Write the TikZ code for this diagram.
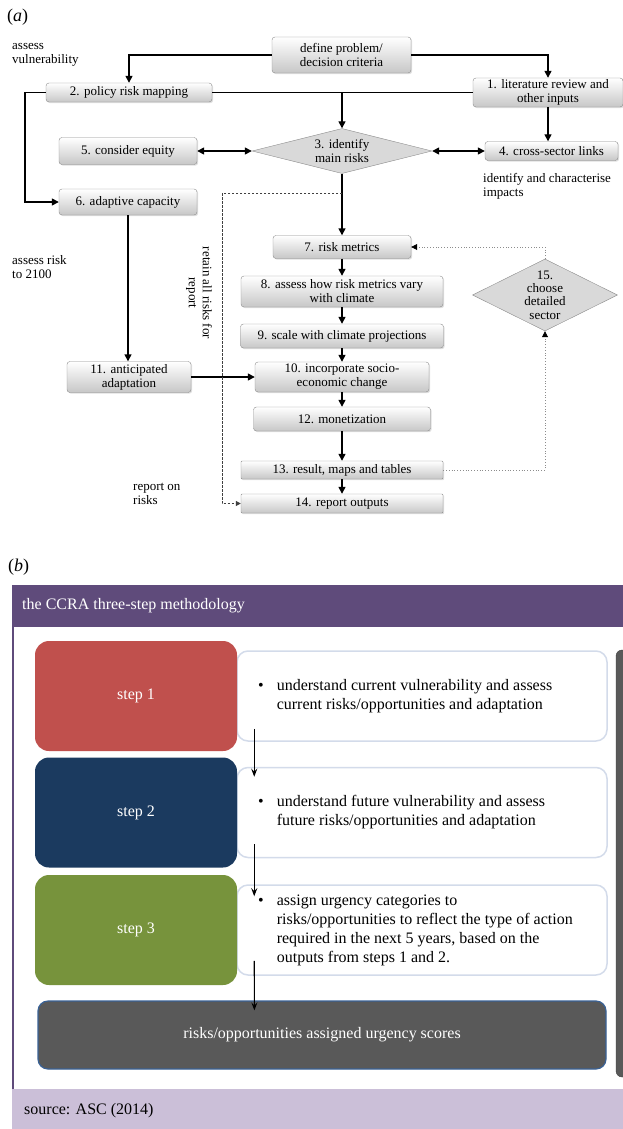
\documentclass[tikz,border=0pt]{standalone}
\usepackage{fontspec}
\setmainfont{Liberation Serif}
\usepackage{tikz}
\usetikzlibrary{positioning, shapes.geometric, arrows.meta, shadows, calc}

\definecolor{ccrapurple}{HTML}{5F4B7B}
\definecolor{ccralilac}{HTML}{CBBFD8}
\definecolor{steponered}{HTML}{C0504D}
\definecolor{steptwoblue}{HTML}{1B3A5F}
\definecolor{stepthreegreen}{HTML}{77933C}
\definecolor{notegrey}{HTML}{595959}
\definecolor{noteedge}{HTML}{D3DBEA}
\definecolor{scoreedge}{HTML}{3A6296}

\begin{document}
\begin{tikzpicture}[x=1pt, y=-1pt,
    flow/.style={draw=black!45, rounded corners=3pt, top color=white, bottom color=black!22,
      drop shadow={shadow xshift=1.2pt, shadow yshift=-1.2pt, opacity=0.25},
      align=center, inner sep=0pt, font=\fontsize{13}{14}\selectfont},
    flatbox/.style={flow, rounded corners=1pt},
    choice/.style={diamond, draw=black!45, fill=black!15, align=center, inner sep=0pt,
      font=\fontsize{13}{13.3}\selectfont},
    link/.style={line width=1.4pt, -{Triangle[length=7pt,width=7pt]}},
    twoway/.style={line width=1.4pt, {Triangle[length=7pt,width=7pt]}-{Triangle[length=7pt,width=7pt]}},
    keepline/.style={black!75, line width=1pt, dash pattern=on 2.5pt off 1.5pt, -{Triangle[length=5pt,width=5pt]}},
    again/.style={black!45, line width=0.8pt, dotted, -{Triangle[length=6pt,width=6pt,color=black]}},
    aside/.style={align=left, inner sep=0pt, font=\fontsize{13}{14}\selectfont},
    stepbox/.style={rounded corners=14pt, minimum width=202, minimum height=110, text=white,
      font=\fontsize{16}{19}\selectfont},
    notebox/.style={draw=noteedge, line width=1.5pt, fill=white, rounded corners=11pt,
      minimum width=370, minimum height=90},
    notetext/.style={anchor=west, inner sep=0pt, font=\fontsize{16}{19}\selectfont},
    stepflow/.style={line width=1.1pt, -{Stealth[length=8pt,width=6pt,inset=3pt]}}]
\useasboundingbox (0,0) rectangle (623,1129);

% (a) the assessment chain
\node[anchor=west, inner sep=0pt, font=\fontsize{18}{18}\selectfont] (labela) at (7,17) {(\textit{a})};
\node[flow, minimum width=139, minimum height=36] (def) at (341.5,55) {define problem/\\decision criteria};
\node[flow, minimum width=150, minimum height=29] (lit) at (548,92.5) {1. literature review and\\other inputs};
\node[flow, minimum width=166, minimum height=19] (pol) at (129,92.5) {2. policy risk mapping};
\node[choice, aspect=4, minimum width=180, minimum height=45] (main) at (342,151) {3. identify\\main risks};
\node[flow, minimum width=133, minimum height=19] (cross) at (551.5,151) {4. cross-sector links};
\node[flow, minimum width=138, minimum height=27] (equity) at (128,151) {5. consider equity};
\node[flow, minimum width=138, minimum height=26] (adapt) at (128,202) {6. adaptive capacity};
\node[flow, minimum width=138, minimum height=23] (metr) at (342,247) {7. risk metrics};
\node[flow, minimum width=202, minimum height=31] (vary) at (342,291.5) {8. assess how risk metrics vary\\with climate};
\node[flow, minimum width=203, minimum height=24] (scale) at (342,336) {9. scale with climate projections};
\node[flow, minimum width=174, minimum height=30] (socio) at (342,377) {10. incorporate socio-\\economic change};
\node[flow, minimum width=124, minimum height=31] (antic) at (129,377) {11. anticipated\\adaptation};
\node[flow, minimum width=177, minimum height=24] (money) at (342,419) {12. monetization};
\node[flatbox, minimum width=202, minimum height=18] (result) at (342,470) {13. result, maps and tables};
\node[flatbox, minimum width=202, minimum height=19] (report) at (342,503.5) {14. report outputs};
\node[choice, aspect=2, minimum width=145, minimum height=72] (sector) at (545,295) {15.\\choose\\detailed\\sector};

\node[aside, anchor=north west] (vuln) at (12,43) {assess\\vulnerability};
\node[aside, anchor=north west] (impact) at (483,173) {identify and characterise\\impacts};
\node[aside, anchor=north west] (upto) at (12,255) {assess risk\\to 2100};
\node[aside, anchor=north west] (onrisk) at (133,483) {report on\\risks};
\node[aside, align=center, rotate=-90] (retain) at (199,293) {retain all risks for\\report};

\draw[link] (def.west) -| (pol.north);
\draw[link] (def.east) -| (lit.north);
\draw[line width=1.4pt] (pol.east) -- (pol.east -| lit.west);
\draw[link] (main.north |- pol.east) -- (main.north);
\draw[link] (lit.south) -- (lit.south |- cross.north);
\draw[twoway] (equity.east) -- (main.west);
\draw[twoway] (main.east) -- (cross.west);
\draw[link] (pol.west) -- ++(-21,0) |- (adapt.west);
\draw[link] (adapt.south) -- (adapt.south |- antic.north);
\draw[link] (antic.east) -- (socio.west);
\draw[link] (main.south) -- (metr.north);
\foreach \a/\b in {metr/vary, vary/scale, scale/socio, socio/money, money/result, result/report}
  \draw[link] (\a.south) -- (\b.north);

% kept risks go straight to the report
\coordinate (keepturn) at (222,193);
\draw[keepline] (main.south |- keepturn) -- (keepturn) |- (report.west);
\draw[again] (result.east) -| (sector.south);
\draw[again] (sector.north) |- (metr.east);

% (b) the three-step method
\node[anchor=west, inner sep=0pt, font=\fontsize{18}{18}\selectfont] (labelb) at (8,567) {(\textit{b})};
\fill[ccrapurple] (12,585) rectangle (623,627);
\node[anchor=west, inner sep=0pt, text=white, font=\fontsize{16}{19}\selectfont] (title) at (22,606) {the CCRA three-step methodology};
\draw[ccrapurple, line width=2pt] (13,627) -- (13,1089);
\fill[ccralilac] (12,1089) rectangle (623,1129);
\node[anchor=west, inner sep=0pt, font=\fontsize{16}{19}\selectfont] (source) at (24,1111) {source: ASC (2014)};
\begin{scope}
  \clip (0,0) rectangle (623,1129);
  \filldraw[fill=notegrey, draw=black!75, rounded corners=6pt] (630,650) -- (616,650) -- (616,1077) -- (630,1077) -- cycle;
\end{scope}

\foreach \n/\y/\c in {1/696/steponered, 2/812.5/steptwoblue, 3/930/stepthreegreen} {
  \node[notebox] (note\n) at (422,\y) {};
  \node[stepbox, fill=\c] (step\n) at (136,\y) {step \n};
}
\node[notetext] (say1) at (258,696) {\begin{tabular}{@{}l@{\hspace{13pt}}l@{}}\textbullet & understand current vulnerability and assess\\ & current risks/opportunities and adaptation\end{tabular}};
\node[notetext] (say2) at (258,812.5) {\begin{tabular}{@{}l@{\hspace{13pt}}l@{}}\textbullet & understand future vulnerability and assess\\ & future risks/opportunities and adaptation\end{tabular}};
\node[notetext] (say3) at (258,930) {\begin{tabular}{@{}l@{\hspace{13pt}}l@{}}\textbullet & assign urgency categories to\\ & risks/opportunities to reflect the type of action\\ & required in the next 5 years, based on the\\ & outputs from steps 1 and 2.\end{tabular}};
\node[draw=scoreedge, line width=1.2pt, fill=notegrey, rounded corners=10pt, minimum width=568, minimum height=68,
  text=white, font=\fontsize{16}{19}\selectfont] (scores) at (322,1035) {risks/opportunities assigned urgency scores};

\draw[stepflow] ([xshift=18,yshift=13]note1.south west) -- ([xshift=18,yshift=-10]note2.north west);
\draw[stepflow] ([xshift=18,yshift=14]note2.south west) -- ([xshift=18,yshift=-12]note3.north west);
\draw[stepflow] ([xshift=18,yshift=15]note3.south west) -- ([xshift=217,yshift=-10]scores.north west);
\end{tikzpicture}
\end{document}
